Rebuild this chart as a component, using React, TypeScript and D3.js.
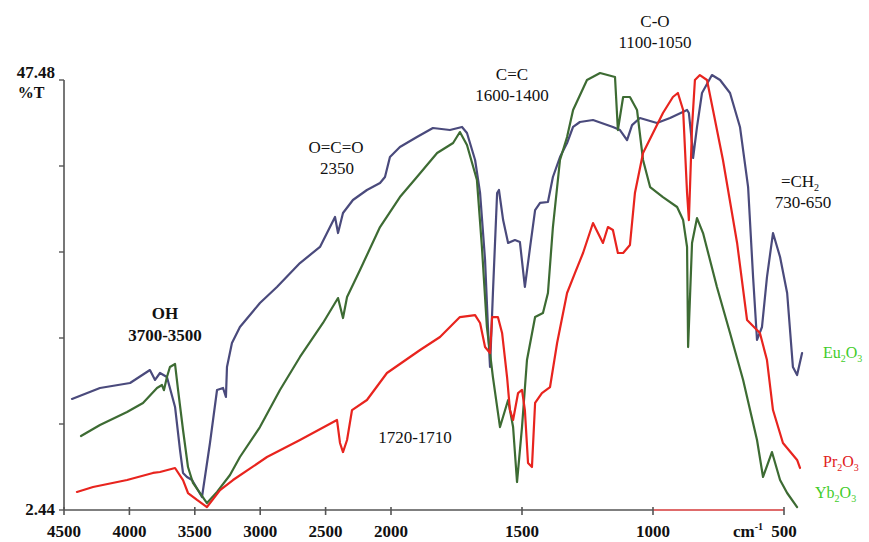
import React from "react";
import * as d3 from "d3";

// Eu2O3 (blue/slate trace)
const euWavenumber = [4439,4225,3995,3843,3804,3766,3713,3651,3613,3590,3560,3521,3445,3384,3330,3284,3262,3254,3216,3155,3002,2872,2696,2543,2428,2405,2367,2291,2184,2084,2046,2008,1966,1901,1840,1775,1729,1710,1679,1660,1641,1630,1622,1611,1595,1588,1572,1553,1527,1508,1489,1469,1450,1431,1401,1382,1355,1328,1305,1279,1229,1153,1126,1099,1080,1050,985,935,870,863,851,847,832,813,775,744,706,668,637,618,603,584,565,542,515,488,466,450,431];
const euT = [14.07,15.22,15.74,17.10,16.06,16.79,16.37,13.23,8.72,6.32,5.90,5.58,3.80,9.46,15.01,15.22,14.28,17.42,19.93,21.61,24.12,25.80,28.31,29.99,33.13,31.45,33.55,34.91,35.96,36.69,37.32,39.41,40.46,41.51,42.45,42.24,42.56,41.93,39.10,35.64,28.63,21.61,17.42,25.17,35.64,35.96,32.81,30.41,30.72,30.51,25.80,29.99,33.86,34.60,34.70,37.32,39.41,40.88,42.56,43.08,43.29,42.56,42.24,41.19,42.76,43.50,42.97,43.50,44.34,44.02,40.88,39.31,42.56,46.12,48.00,47.48,46.12,42.56,36.27,26.84,20.25,21.61,26.84,31.45,28.94,25.17,17.42,16.58,18.88];

// Yb2O3 (green trace)
const ybWavenumber = [4370,4225,4018,3896,3789,3751,3736,3713,3690,3651,3628,3590,3552,3514,3407,3330,3231,3155,3002,2849,2696,2520,2405,2367,2336,2237,2084,1966,1901,1824,1763,1737,1710,1672,1653,1634,1611,1584,1553,1534,1519,1500,1481,1450,1420,1401,1382,1355,1328,1305,1252,1202,1145,1134,1114,1088,1061,1038,1011,962,908,885,870,866,851,832,809,756,706,656,603,580,546,515,488,450];
const ybT = [10.19,11.34,12.70,13.65,15.22,15.53,14.99,16.37,17.42,17.73,15.01,10.82,6.94,5.27,3.17,4.33,6.11,7.99,11.13,15.01,18.47,22.03,24.64,22.55,24.75,27.58,32.08,35.22,37.32,39.83,40.88,42.03,40.67,37.00,29.99,21.61,16.37,11.13,13.96,11.13,5.37,11.13,18.15,22.65,23.07,25.17,32.08,39.10,41.51,44.34,47.48,48.21,47.79,42.24,45.70,45.70,44.34,39.10,36.27,35.22,34.18,32.81,29.99,19.51,30.41,33.02,31.45,25.80,20.98,16.06,9.77,5.90,8.51,5.58,4.22,2.75];

// Pr2O3 (red trace)
const prWavenumber = [4401,4278,4018,3820,3766,3651,3590,3552,3483,3407,3307,3208,2948,2696,2413,2390,2367,2336,2298,2184,2031,1889,1813,1737,1679,1660,1641,1622,1614,1592,1576,1557,1546,1534,1515,1500,1489,1477,1462,1450,1424,1393,1366,1328,1298,1267,1229,1210,1191,1172,1153,1134,1114,1088,1069,1038,1000,962,924,905,885,870,863,851,840,821,794,771,733,679,641,592,565,542,504,450,439];
const prT = [4.33,4.85,5.58,6.32,6.42,6.84,5.58,4.22,3.49,2.75,4.53,5.58,7.99,9.77,11.87,9.46,8.51,9.77,12.91,13.96,16.79,19.20,20.56,22.65,22.86,22.03,19.51,18.88,22.65,22.65,20.98,16.37,12.91,11.87,14.69,15.01,12.91,7.36,6.94,13.65,14.69,15.32,19.93,25.17,27.26,29.36,32.50,31.45,30.41,32.08,31.77,29.36,29.36,30.20,35.64,39.83,41.93,44.02,45.70,46.12,44.34,35.64,32.81,42.56,47.48,48.00,47.48,44.34,39.10,30.41,22.34,20.98,18.15,12.91,9.46,7.68,6.84];

const xTicks = [4500, 4000, 3500, 3000, 2500, 2000, 1500, 1000, 500];
const yMin = 2.44;
const yMax = 47.48;
const yTickCount = 5;

const FONT = '"Liberation Serif", "DejaVu Serif", "Times New Roman", Times, serif';

export default function App() {
  const x = d3.scaleLinear().domain([4500, 2000, 500]).range([64, 391, 784]);
  const y = d3.scaleLinear().domain([yMin, yMax]).range([510, 80]);
  const yTicks = d3.range(yTickCount + 1).map((i) => yMin + (i * (yMax - yMin)) / yTickCount);

  const line = d3
    .line<[number, number]>()
    .x((d) => x(d[0]))
    .y((d) => y(d[1]));

  const series = [
    { wn: euWavenumber, t: euT, color: "#4a4a7c" },
    { wn: ybWavenumber, t: ybT, color: "#3d6b33" },
    { wn: prWavenumber, t: prT, color: "#e8241e" },
  ];

  const x0 = x(4500);
  const y0 = y(yMin);
  const txt = { fontFamily: FONT } as React.CSSProperties;

  return (
    <svg
      width={869}
      height={542}
      style={{ position: "absolute", left: 0, top: 0, background: "#fff", fontFamily: FONT }}
    >
      <rect width={869} height={542} fill="#fff" />
      {/* axes */}
      <line x1={x0} x2={x0} y1={y(yMax)} y2={y0} stroke="#555" strokeWidth={1.6} />
      <line x1={x0} x2={x(1000)} y1={y0} y2={y0} stroke="#555" strokeWidth={1.6} />
      <line x1={x(1000)} x2={x(500)} y1={y0} y2={y0} stroke="#d43a3a" strokeWidth={1.6} />
      {yTicks.map((v, i) => (
        <line key={"yt" + i} x1={x0 - 5} x2={x0} y1={y(v)} y2={y(v)} stroke="#555" strokeWidth={1.4} />
      ))}
      {xTicks.map((v) => (
        <g key={"xt" + v}>
          <line x1={x(v)} x2={x(v)} y1={y0 - 3} y2={y0 + 5} stroke="#555" strokeWidth={1.6} />
          <text style={txt} x={x(v)} y={537} textAnchor="middle" fontSize={17} fontWeight="bold" fill="#111">
            {v}
          </text>
        </g>
      ))}
      <text style={txt} x={55} y={78} textAnchor="end" fontSize={17} fontWeight="bold" fill="#111">47.48</text>
      <text style={txt} x={31} y={98} textAnchor="middle" fontSize={16} fontWeight="bold" fill="#111">%T</text>
      <text style={txt} x={55} y={515} textAnchor="end" fontSize={17} fontWeight="bold" fill="#111">2.44</text>
      <text style={txt} x={733} y={537} fontSize={17} fontWeight="bold" fill="#111">
        cm<tspan dy={-7} fontSize={10}>-1</tspan>
      </text>

      {/* spectra */}
      {series.map((s, i) => (
        <path
          key={"s" + i}
          d={line(s.wn.map((w, j) => [w, s.t[j]] as [number, number])) || ""}
          fill="none"
          stroke={s.color}
          strokeWidth={2.2}
          strokeLinejoin="round"
          strokeLinecap="round"
        />
      ))}

      {/* band annotations */}
      <text style={txt} x={165} y={319} textAnchor="middle" fontSize={17} fontWeight="bold" fill="#111">OH</text>
      <text style={txt} x={165} y={341} textAnchor="middle" fontSize={17} fontWeight="bold" fill="#111">3700-3500</text>
      <text style={txt} x={336} y={153} textAnchor="middle" fontSize={17} fill="#111">O=C=O</text>
      <text style={txt} x={337} y={174} textAnchor="middle" fontSize={17} fill="#111">2350</text>
      <text style={txt} x={512} y={80} textAnchor="middle" fontSize={17} fill="#111">C=C</text>
      <text style={txt} x={512} y={101} textAnchor="middle" fontSize={17} fill="#111">1600-1400</text>
      <text style={txt} x={655} y={27} textAnchor="middle" fontSize={17} fill="#111">C-O</text>
      <text style={txt} x={655} y={48} textAnchor="middle" fontSize={17} fill="#111">1100-1050</text>
      <text style={txt} x={800} y={187} textAnchor="middle" fontSize={17} fill="#111">
        =CH<tspan dy={4} fontSize={10}>2</tspan>
      </text>
      <text style={txt} x={803} y={208} textAnchor="middle" fontSize={17} fill="#111">730-650</text>
      <text style={txt} x={415} y={443} textAnchor="middle" fontSize={17} fill="#111">1720-1710</text>

      {/* series labels */}
      <text style={txt} x={823} y={358} fontSize={16} fill="#3fcc2a">
        Eu<tspan dy={4} fontSize={10}>2</tspan><tspan dy={-4}>O</tspan><tspan dy={4} fontSize={10}>3</tspan>
      </text>
      <text style={txt} x={823} y={467} fontSize={16} fill="#e02020">
        Pr<tspan dy={4} fontSize={10}>2</tspan><tspan dy={-4}>O</tspan><tspan dy={4} fontSize={10}>3</tspan>
      </text>
      <text style={txt} x={815} y={498} fontSize={16} fill="#3fcc2a">
        Yb<tspan dy={4} fontSize={10}>2</tspan><tspan dy={-4}>O</tspan><tspan dy={4} fontSize={10}>3</tspan>
      </text>
    </svg>
  );
}
